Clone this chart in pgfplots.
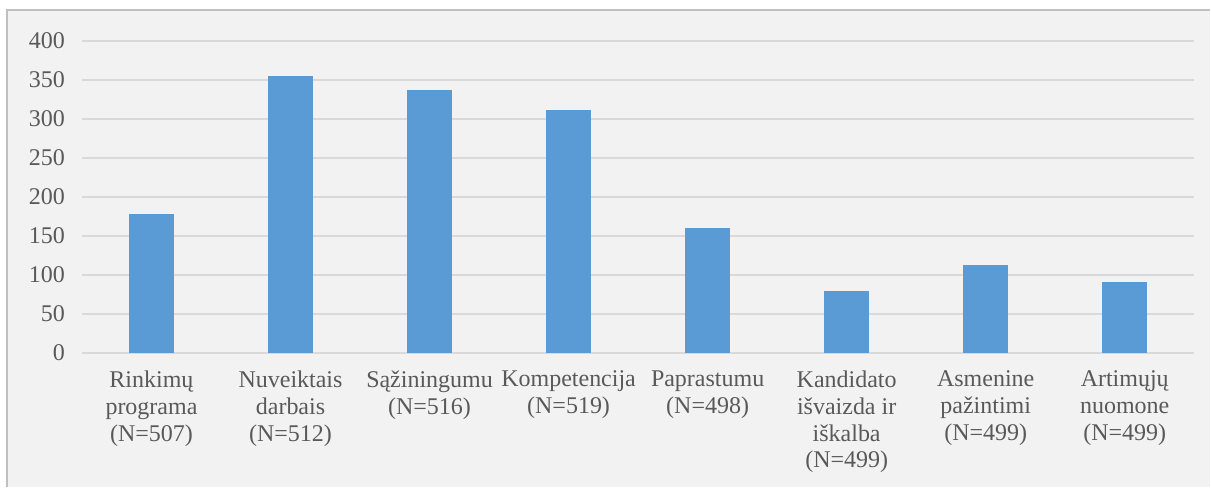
\documentclass[border=0pt]{standalone}
\usepackage{fontspec}
\setmainfont{Liberation Serif}
\usepackage{pgfplots}
\pgfplotsset{compat=1.18}
\definecolor{barblue}{HTML}{5B9BD5}
\definecolor{bgc}{HTML}{F2F2F2}
\definecolor{gridc}{HTML}{D9D9D9}
\definecolor{txt}{HTML}{595959}
\definecolor{framec}{HTML}{BFBFBF}

\begin{document}
\begin{tikzpicture}
	% chart area (1px = 0.5pt)
	\fill[white] (-41pt,-67pt) rectangle (564.5pt,176.5pt);
	\fill[bgc] (-37.5pt,-67pt) rectangle (564.5pt,171.5pt);
	\draw[framec, line width=0.75pt] (-37.5pt,-67pt) -- (-37.5pt,171.5pt) -- (564.5pt,171.5pt);
	\begin{axis}[
			at={(0pt,0pt)},
			anchor=south west,
			scale only axis,
			width=556.5pt,
			height=156pt,
			ybar,
			bar width=22pt,
			xmin=-0.5, xmax=7.5,
			ymin=0, ymax=400,
			ytick={0,50,...,400},
			xtick={0,...,7},
			xticklabels={
					{Rinkimų\\programa\\(N=507)},
					{Nuveiktais\\darbais\\(N=512)},
					{Sąžiningumu\\(N=516)},
					{Kompetencija\\(N=519)},
					{Paprastumu\\(N=498)},
					{Kandidato\\išvaizda ir\\iškalba\\(N=499)},
					{Asmenine\\pažintimi\\(N=499)},
					{Artimųjų\\nuomone\\(N=499)}
				},
			axis line style={draw=none},
			major tick length=0pt,
			ymajorgrids=true,
			grid style={gridc, line width=0.75pt},
			/pgf/number format/assume math mode=true,
			tick label style={font=\fontsize{12}{13.4}\selectfont, text=txt},
			yticklabel style={xshift=-5pt},
			xticklabel style={align=center, yshift=-5.5pt},
		]
		\addplot[fill=barblue, draw=barblue] coordinates {
				(0,178) (1,355) (2,336) (3,311) (4,159) (5,79) (6,112) (7,90)
			};
	\end{axis}
\end{tikzpicture}
\end{document}
